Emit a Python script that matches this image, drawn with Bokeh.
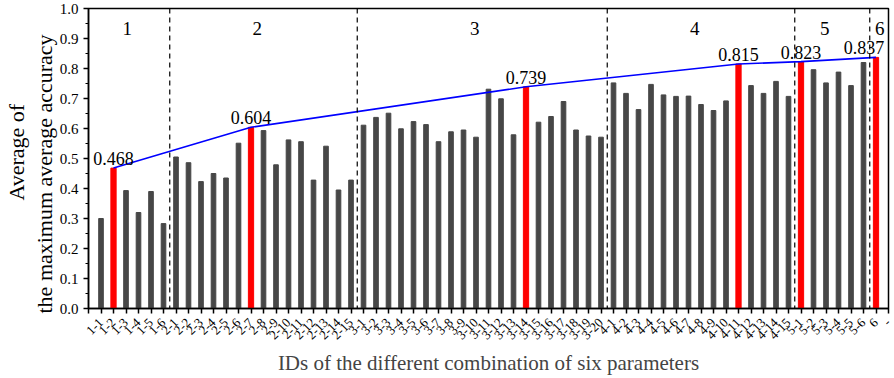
import math
from bokeh.plotting import figure
from bokeh.models import (ColumnDataSource, Span, FixedTicker, SingleIntervalTicker,
                          PrintfTickFormatter, Title)
from bokeh.core.properties import value
from bokeh.embed import file_html
from bokeh.resources import INLINE

# ---------------- data ----------------
group_names = ["1", "2", "3", "4", "5", "6"]
group_sizes = [6, 15, 20, 15, 6, 1]

tick_labels = [
    "1-1", "1-2", "1-3", "1-4", "1-5", "1-6",
    "2-1", "2-2", "2-3", "2-4", "2-5", "2-6", "2-7", "2-8", "2-9", "2-10",
    "2-11", "2-12", "2-13", "2-14", "2-15",
    "3-1", "3-2", "3-3", "3-4", "3-5", "3-6", "3-7", "3-8", "3-9", "3-10",
    "3-11", "3-12", "3-13", "3-14", "3-15", "3-16", "3-17", "3-18", "3-19", "3-20",
    "4-1", "4-2", "4-3", "4-4", "4-5", "4-6", "4-7", "4-8", "4-9", "4-10",
    "4-11", "4-12", "4-13", "4-14", "4-15",
    "5-1", "5-2", "5-3", "5-4", "5-5", "5-6",
    "6", "-",
]

values = [
    0.300, 0.468, 0.393, 0.320, 0.390, 0.283,
    0.505, 0.486, 0.423, 0.450, 0.435, 0.551, 0.604, 0.593, 0.479, 0.562,
    0.556, 0.428, 0.541, 0.395, 0.428,
    0.611, 0.637, 0.651, 0.599, 0.623, 0.613, 0.556, 0.589, 0.595, 0.571,
    0.731, 0.699, 0.579, 0.739, 0.621, 0.640, 0.690, 0.595, 0.575, 0.571,
    0.752, 0.717, 0.663, 0.747, 0.712, 0.707, 0.708, 0.680, 0.660, 0.692,
    0.815, 0.743, 0.717, 0.757, 0.707,
    0.823, 0.796, 0.752, 0.788, 0.743, 0.820,
    0.837,
]

best_ids = ["1-2", "2-7", "3-14", "4-11", "5-1", "6"]
best_values = [0.468, 0.604, 0.739, 0.815, 0.823, 0.837]

y_title_lines = ["Average of", "the maximum average accuracy"]
x_title = "IDs of the different combination of six parameters"

# layout constants (positions of group captions, in bar-index units)
group_label_x = [2.1, 12.5, 29.9, 47.5, 57.9, 62.3]

SERIF = "Liberation Serif"

# ---------------- figure ----------------
n = len(values)
xs = list(range(n))
is_best = [tick_labels[i] in best_ids for i in xs]

bars = ColumnDataSource(dict(
    x=xs,
    top=values,
    color=["#ff0000" if b else "#474747" for b in is_best],
    w=[0.42 if b else 0.37 for b in is_best],
))

best_x = [tick_labels.index(b) for b in best_ids]
best_src = ColumnDataSource(dict(
    x=best_x,
    y=best_values,
    txt=["%.3f" % v for v in best_values],
    dx=[0] * (len(best_x) - 1) + [-12],
))

p = figure(width=894, height=378, x_range=(-1, n), y_range=(0, 1.0),
           output_backend="svg", toolbar_location=None,
           min_border_left=88, min_border_right=6,
           min_border_top=8, min_border_bottom=70)

p.xgrid.visible = False
p.ygrid.visible = False
p.outline_line_color = "black"
p.outline_line_width = 1.5
p.background_fill_color = "white"
p.border_fill_color = "white"

p.vbar(x="x", top="top", bottom=0, width="w", color="color", source=bars)

# group separators
acc = 0
for s in group_sizes[:-1]:
    acc += s
    p.add_layout(Span(location=acc - 0.5, dimension="height", line_color="black",
                      line_width=1.2, line_dash="5 4"))

# best-value envelope
p.line(x="x", y="y", source=best_src, line_color="#0000ff", line_width=1.6)

p.text(x="x", y="y", text="txt", source=best_src, x_offset="dx", y_offset=-3,
       text_align="center", text_baseline="bottom",
       text_font=value(SERIF), text_font_size="18px", text_color="black")

p.text(x=group_label_x, y=[0.935] * len(group_names), text=group_names,
       text_align="center", text_baseline="middle",
       text_font=value(SERIF), text_font_size="19px", text_color="black")

# axes
xa = p.xaxis[0]
xa.ticker = FixedTicker(ticks=list(range(-1, n + 1)))
overrides = {-1: ""}
for i, lab in enumerate(tick_labels):
    overrides[i] = lab
xa.major_label_overrides = overrides
xa.major_label_orientation = math.pi / 4
xa.major_label_text_font = SERIF
xa.major_label_text_font_size = "13px"
xa.major_label_text_color = "black"
xa.major_label_standoff = 7
xa.major_tick_in = 0
xa.major_tick_out = 5
xa.minor_tick_line_color = None
xa.axis_line_width = 1.5
xa.major_tick_line_width = 1.5
xa.axis_label = x_title
xa.axis_label_text_font = SERIF
xa.axis_label_text_font_size = "21px"
xa.axis_label_text_font_style = "normal"
xa.axis_label_standoff = 5

ya = p.yaxis[0]
ya.ticker = SingleIntervalTicker(interval=0.1, num_minor_ticks=2)
ya.formatter = PrintfTickFormatter(format="%.1f")
ya.major_label_text_font = SERIF
ya.major_label_text_font_size = "15px"
ya.major_label_text_color = "black"
ya.major_tick_in = 0
ya.major_tick_out = 5
ya.minor_tick_in = 0
ya.minor_tick_out = 3
ya.axis_line_width = 1.5
ya.major_tick_line_width = 1.5

# two-line y title: inner line added first (closest to the axis);
# align "left" starts the rotated text at the bottom of the frame
p.add_layout(Title(text=y_title_lines[1], align="left", offset=-5,
                   text_font=SERIF, text_font_size="22px", text_font_style="normal",
                   text_color="black", standoff=0), "left")
p.add_layout(Title(text=y_title_lines[0], align="left", offset=108,
                   text_font=SERIF, text_font_size="22px", text_font_style="normal",
                   text_color="black", standoff=2), "left")

open("out.html", "w").write(file_html(p, INLINE))
